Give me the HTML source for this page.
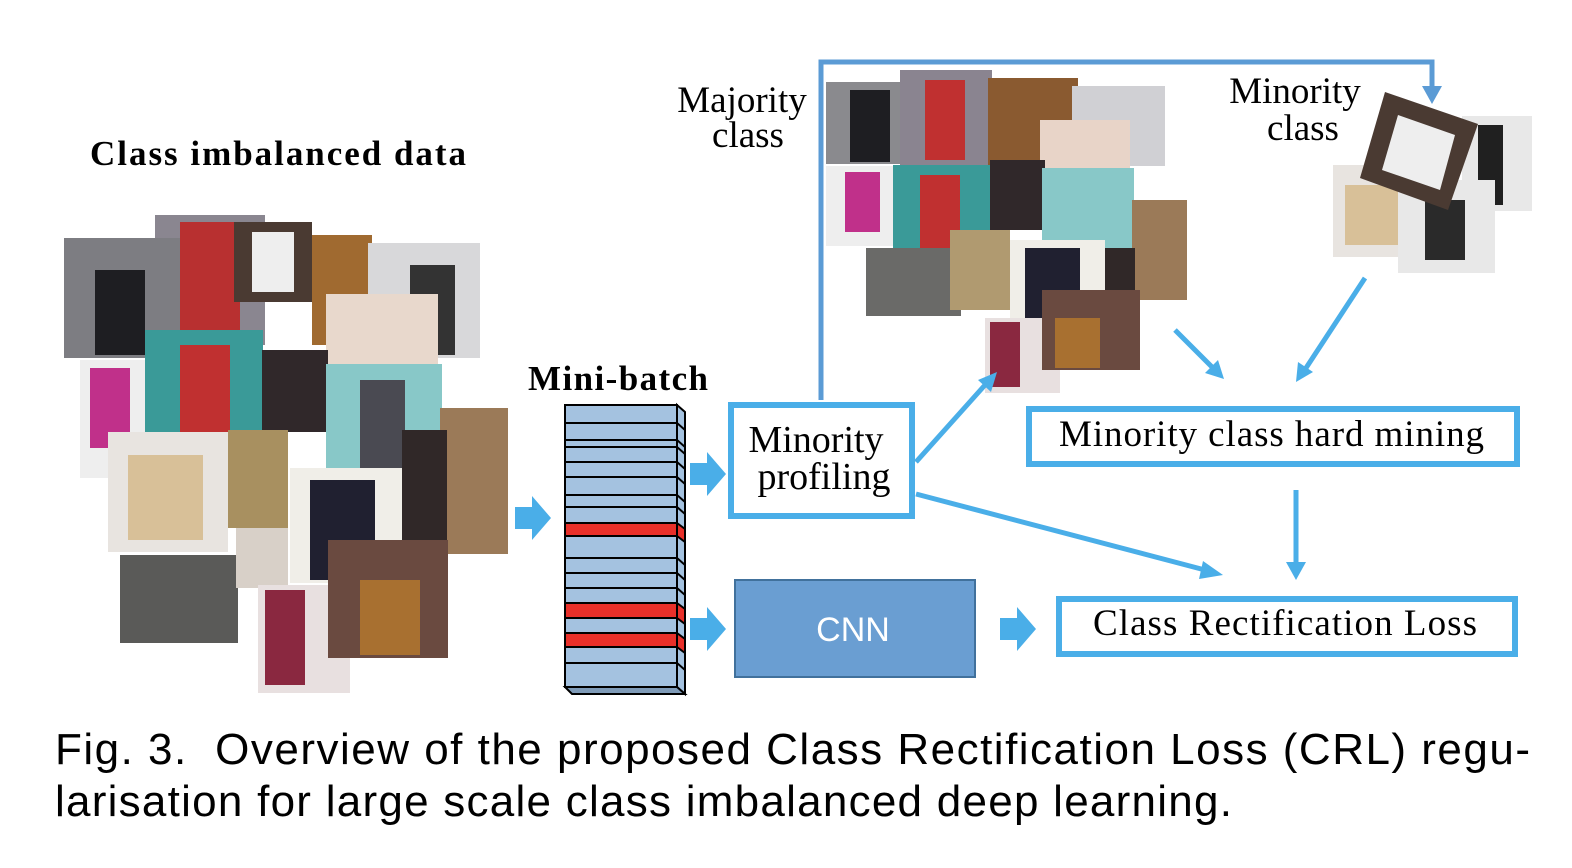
<!DOCTYPE html>
<html><head><style>
body{margin:0;background:#fff;}
svg{display:block;}
</style></head><body>
<svg width="1572" height="868" xmlns="http://www.w3.org/2000/svg">
<g>
<rect x="155" y="215" width="110" height="130" fill="#8a8690"/>
<rect x="64" y="238" width="118" height="120" fill="#7d7d82"/>
<rect x="95" y="270" width="50" height="85" fill="#1e1e22"/>
<rect x="180" y="222" width="60" height="115" fill="#b83030"/>
<rect x="234" y="222" width="78" height="80" fill="#4a3a32"/>
<rect x="252" y="232" width="42" height="60" fill="#eee"/>
<rect x="312" y="235" width="60" height="110" fill="#a06a30"/>
<rect x="368" y="243" width="112" height="115" fill="#d8d8da"/>
<rect x="410" y="265" width="45" height="90" fill="#333"/>
<rect x="326" y="294" width="112" height="70" fill="#e8d8cc"/>
<rect x="80" y="360" width="68" height="118" fill="#eee"/>
<rect x="90" y="368" width="40" height="80" fill="#c0308a"/>
<rect x="145" y="330" width="118" height="120" fill="#3a9a98"/>
<rect x="180" y="345" width="50" height="100" fill="#c03030"/>
<rect x="262" y="350" width="66" height="82" fill="#30282a"/>
<rect x="326" y="364" width="116" height="116" fill="#88c8c8"/>
<rect x="360" y="380" width="45" height="90" fill="#4a4a52"/>
<rect x="440" y="408" width="68" height="146" fill="#9b7a58"/>
<rect x="108" y="432" width="120" height="120" fill="#e8e4e0"/>
<rect x="128" y="455" width="75" height="85" fill="#d8c098"/>
<rect x="228" y="430" width="60" height="98" fill="#a89060"/>
<rect x="290" y="468" width="112" height="115" fill="#f0eee8"/>
<rect x="310" y="480" width="65" height="100" fill="#202030"/>
<rect x="402" y="430" width="45" height="110" fill="#302828"/>
<rect x="120" y="555" width="118" height="88" fill="#5a5a58"/>
<rect x="236" y="528" width="52" height="60" fill="#d8d0c8"/>
<rect x="258" y="585" width="92" height="108" fill="#e8e0e0"/>
<rect x="265" y="590" width="40" height="95" fill="#8a2840"/>
<rect x="328" y="540" width="120" height="118" fill="#6a4a40"/>
<rect x="360" y="580" width="60" height="75" fill="#a87030"/>
</g>
<text x="90" y="165" font-family="Liberation Serif" font-weight="bold" font-size="35" textLength="376" lengthAdjust="spacing">Class imbalanced data</text>
<g>
<rect x="826" y="82" width="97" height="82" fill="#8a8a8e"/>
<rect x="850" y="90" width="40" height="72" fill="#1e1e22"/>
<rect x="900" y="70" width="92" height="95" fill="#8a8490"/>
<rect x="925" y="80" width="40" height="80" fill="#c03030"/>
<rect x="988" y="78" width="90" height="90" fill="#8a5a30"/>
<rect x="1072" y="86" width="93" height="80" fill="#d0d0d4"/>
<rect x="1040" y="120" width="90" height="50" fill="#e8d4c8"/>
<rect x="826" y="166" width="68" height="80" fill="#eee"/>
<rect x="845" y="172" width="35" height="60" fill="#c0308a"/>
<rect x="893" y="165" width="97" height="85" fill="#3a9a98"/>
<rect x="920" y="175" width="40" height="75" fill="#c03030"/>
<rect x="990" y="160" width="55" height="70" fill="#30282a"/>
<rect x="1042" y="168" width="92" height="82" fill="#88c8c8"/>
<rect x="1132" y="200" width="55" height="100" fill="#9b7a58"/>
<rect x="866" y="248" width="95" height="68" fill="#6a6a68"/>
<rect x="950" y="230" width="60" height="80" fill="#b09a70"/>
<rect x="1010" y="240" width="95" height="80" fill="#f0eee8"/>
<rect x="1025" y="248" width="55" height="70" fill="#202030"/>
<rect x="1105" y="248" width="30" height="65" fill="#302828"/>
<rect x="985" y="318" width="75" height="75" fill="#e8e0e0"/>
<rect x="990" y="322" width="30" height="65" fill="#8a2840"/>
<rect x="1042" y="290" width="98" height="80" fill="#6a4a40"/>
<rect x="1055" y="318" width="45" height="50" fill="#a87030"/>
<rect x="1462" y="116" width="70" height="95" fill="#e8e8e8"/>
<rect x="1478" y="125" width="25" height="80" fill="#202020"/>
<rect x="1333" y="165" width="90" height="92" fill="#e8e4e0"/>
<rect x="1345" y="185" width="60" height="60" fill="#d8c098"/>
<rect x="1398" y="180" width="97" height="93" fill="#e8e8e8"/>
<rect x="1425" y="200" width="40" height="60" fill="#2a2a2a"/>
<polygon points="1385,92 1478,124 1448,210 1360,178" fill="#4a3a32"/>
<polygon points="1398,115 1455,135 1440,190 1382,170" fill="#eee"/>
</g>
<text x="742" y="112" font-family="Liberation Serif" font-size="37" text-anchor="middle">Majority</text>
<text x="748" y="147" font-family="Liberation Serif" font-size="37" text-anchor="middle">class</text>
<text x="1295" y="103" font-family="Liberation Serif" font-size="37" text-anchor="middle">Minority</text>
<text x="1303" y="140" font-family="Liberation Serif" font-size="37" text-anchor="middle">class</text>
<polyline points="821,400 821,62 1432,62 1432,90" fill="none" stroke="#5b9bd5" stroke-width="5"/>
<polygon points="1422,86 1442,86 1432,104" fill="#5b9bd5"/>
<text x="528" y="390" font-family="Liberation Serif" font-weight="bold" font-size="35" textLength="180" lengthAdjust="spacing">Mini-batch</text>
<g stroke="#000" stroke-width="2">
<polygon points="677,405 685,412 685,694 677,687" fill="#a4c2e0"/>
<polygon points="565,687 677,687 685,694 572,694" fill="#7f9bb8"/>
<rect x="565" y="405" width="112" height="282" fill="#a4c2e0"/>
<rect x="565" y="523" width="112" height="13" fill="#e8302a"/>
<rect x="565" y="603" width="112" height="15" fill="#e8302a"/>
<rect x="565" y="633" width="112" height="14" fill="#e8302a"/>
<polygon points="677,523 685,529 685,542 677,536" fill="#e8302a"/>
<polygon points="677,603 685,609 685,624 677,618" fill="#e8302a"/>
<polygon points="677,633 685,639 685,653 677,647" fill="#e8302a"/>
<path d="M565,423H677M565,440H677M565,447H677M565,462H677M565,477H677M565,495H677M565,507H677M565,558H677M565,573H677M565,588H677M565,663H677" fill="none"/>
<path d="M677,423L685,430M677,440L685,447M677,447L685,454M677,462L685,469M677,477L685,484M677,495L685,502M677,507L685,514M677,558L685,565M677,573L685,580M677,588L685,595M677,663L685,670" fill="none"/>
</g>
<g fill="#4aaee8">
<polygon points="515,507 532,507 532,496 551,518 532,540 532,529 515,529"/>
<polygon points="690,463 707,463 707,452 726,474 707,496 707,485 690,485"/>
<polygon points="690,618 707,618 707,607 726,629 707,651 707,640 690,640"/>
<polygon points="1000,618 1017,618 1017,607 1036,629 1017,651 1017,640 1000,640"/>
</g>
<rect x="731" y="405" width="181" height="111" fill="#fff" stroke="#4aaee8" stroke-width="6"/>
<text x="816" y="452" font-family="Liberation Serif" font-size="38" text-anchor="middle">Minority</text>
<text x="824" y="489" font-family="Liberation Serif" font-size="38" text-anchor="middle">profiling</text>
<rect x="735" y="580" width="240" height="97" fill="#6a9ed2" stroke="#41719c" stroke-width="2"/>
<text x="853" y="641" font-family="Liberation Sans" font-size="34" fill="#fff" text-anchor="middle">CNN</text>
<rect x="1029" y="409" width="488" height="55" fill="#fff" stroke="#4aaee8" stroke-width="6"/>
<text x="1059" y="446" font-family="Liberation Serif" font-size="37" textLength="425" lengthAdjust="spacing">Minority class hard mining</text>
<rect x="1059" y="599" width="456" height="55" fill="#fff" stroke="#4aaee8" stroke-width="6"/>
<text x="1093" y="635" font-family="Liberation Serif" font-size="37" textLength="384" lengthAdjust="spacing">Class Rectification Loss</text>
<g stroke="#4aaee8" stroke-width="5" fill="none">
<line x1="916" y1="462" x2="985" y2="385"/>
<line x1="1175" y1="330" x2="1212" y2="367"/>
<line x1="1365" y1="278" x2="1306" y2="368"/>
<line x1="1296" y1="490" x2="1296" y2="565"/>
<line x1="916" y1="494" x2="1205" y2="570"/>
</g>
<g fill="#4aaee8">
<polygon points="997,372 978,380 991,392"/>
<polygon points="1224,379 1205,373 1218,360"/>
<polygon points="1296,382 1298,362 1313,372"/>
<polygon points="1296,580 1286,562 1306,562"/>
<polygon points="1223,575 1203,561 1199,579"/>
</g>
<text x="55" y="764" font-family="Liberation Sans" font-size="44" textLength="1475" lengthAdjust="spacing" xml:space="preserve">Fig. 3.  Overview of the proposed Class Rectification Loss (CRL) regu-</text>
<text x="55" y="816" font-family="Liberation Sans" font-size="44" textLength="1177" lengthAdjust="spacing">larisation for large scale class imbalanced deep learning.</text>
</svg>
</body></html>
